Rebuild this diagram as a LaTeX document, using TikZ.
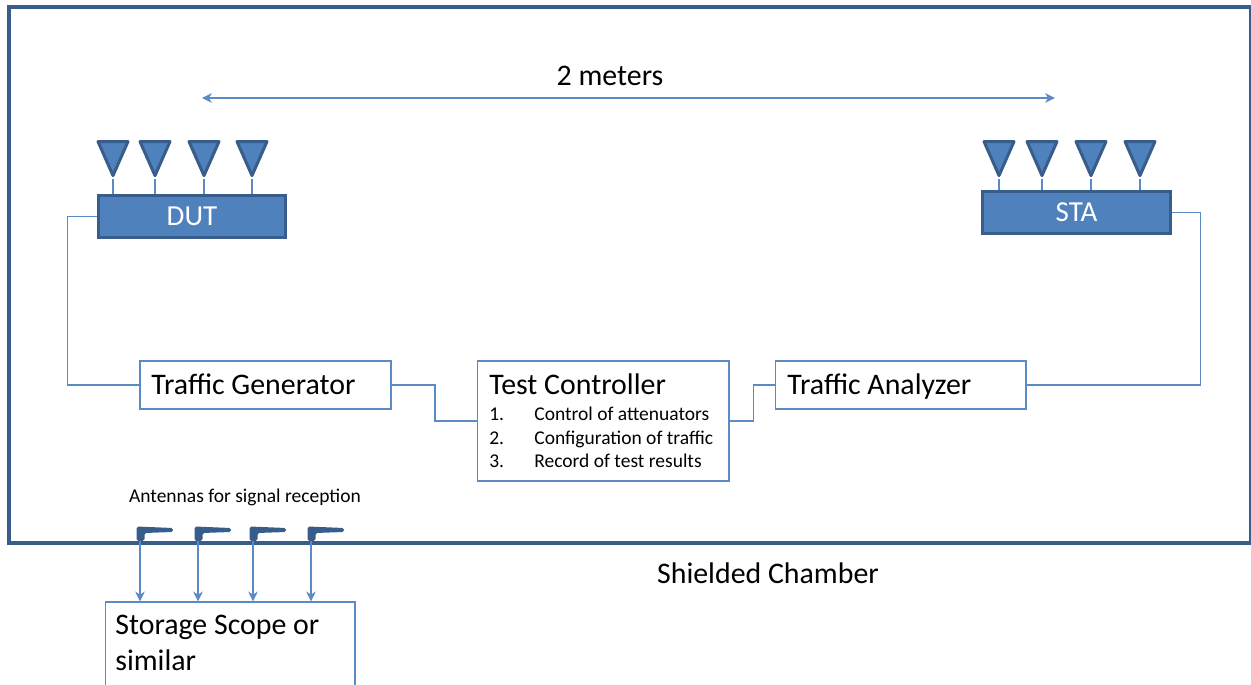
\documentclass[tikz,border=0pt]{standalone}
\usepackage{fontspec}
\setmainfont{Carlito}
\usetikzlibrary{shapes.geometric,arrows.meta}
\definecolor{fillblue}{HTML}{4F81BD}
\definecolor{darkblue}{HTML}{385D8A}
\definecolor{wireblue}{HTML}{5B8BC6}
\tikzset{
  wire/.style={draw=wireblue, line width=0.6pt},
  arrow/.style={wire, -{Stealth[length=5.7pt,width=5.5pt]}},
  box/.style={wire, rectangle, fill=white, inner sep=0pt},
  device/.style={rectangle, draw=darkblue, fill=fillblue, line width=1.7pt, text=white, inner sep=0pt,
    minimum width=3.75cm, minimum height=0.83cm, font=\fontsize{16.5}{18}\selectfont},
  antenna/.style={isosceles triangle, isosceles triangle stretches, shape border rotate=-90,
    draw=darkblue, fill=fillblue, line width=1.7pt, line join=round, inner sep=0pt, anchor=apex,
    minimum width=0.6cm, minimum height=0.68cm},
  title/.style={anchor=base west, inner sep=0pt, font=\fontsize{17}{21}\selectfont},
  item/.style={anchor=base west, inner sep=0pt, font=\fontsize{11.1}{13}\selectfont}
}
\begin{document}
\begin{tikzpicture}[x=0.02cm,y=-0.02cm]
  \useasboundingbox (0,0) rectangle (1251,685);

  % Chamber
  \draw[draw=darkblue, line width=1.9pt] (9,7) rectangle (1251,543);
  \node[title, anchor=base] (chamber) at (768,583.5) {Shielded Chamber};

  % Distance
  \coordinate (distl) at (202,98);
  \coordinate (distr) at (1055,98);
  \draw[wire, {Stealth[length=5.7pt,width=5.5pt]}-{Stealth[length=5.7pt,width=5.5pt]}] (distl) -- (distr);
  \node[title, anchor=base] (dist) at (610,86) {2 meters};

  % Devices
  \node[device] (dut) at (192,216.5) {DUT};
  \node[device] (sta) at (1076.5,212.5) {STA};
  \foreach \x [count=\i] in {113,155,204,252}{
    \node[antenna] (dutant\i) at (\x,179.5) {};
    \draw[wire] (dutant\i.apex) -- (dutant\i.apex |- dut.north);
  }
  \foreach \x [count=\i] in {999,1042,1091,1140}{
    \node[antenna] (staant\i) at (\x,179.5) {};
    \draw[wire] (staant\i.apex) -- (staant\i.apex |- sta.north);
  }

  % Boxes
  \node[box, minimum width=5.02cm, minimum height=0.96cm] (tgen) at (265.5,385) {};
  \node[title] (tgentext) at (151,394.5) {Traffic Generator};
  \node[box, minimum width=5.04cm, minimum height=2.4cm] (ctrl) at (603,421) {};
  \node[title] (ctrltext) at (489,395) {Test Controller};
  \node[item] (ctrlnum1) at (489,421) {1.};
  \node[item] (ctrlnum2) at (489,445) {2.};
  \node[item] (ctrlnum3) at (489,468) {3.};
  \node[item] (ctrlitem1) at (534,421) {Control of attenuators};
  \node[item] (ctrlitem2) at (534,445) {Configuration of traffic};
  \node[item] (ctrlitem3) at (534,468) {Record of test results};
  \node[box, minimum width=5.02cm, minimum height=0.96cm] (tana) at (900.5,385) {};
  \node[title] (tanatext) at (787,394.5) {Traffic Analyzer};

  % Links
  \draw[wire] (dut.west) -- ++(-29,0) |- (tgen.west);
  \draw[wire] (tgen.east) -- ++(43.5,0) |- (ctrl.west);
  \draw[wire] (ctrl.east) -- ++(24,0) |- (tana.west);
  \draw[wire] (tana.east) -- ++(174,0) |- (sta.east);

  % Reception
  \node[item, anchor=base] (anttext) at (245,503) {Antennas for signal reception};
  \node[box, minimum width=5cm, minimum height=2cm, anchor=north west] (scope) at (104.5,601.5) {};
  \node[title] (scopetext1) at (115,634) {Storage Scope or};
  \node[title] (scopetext2) at (115,670) {similar};
  \foreach \x [count=\i] in {140,198,253,311}{
    \coordinate (rx\i) at (\x,541);
    \fill[darkblue, rounded corners=1pt] (\x-3.5,526.5) -- (\x+33,528) -- (\x+33,532) -- (\x+4.5,533) -- (\x+4.5,541) -- (\x-3.5,541) -- cycle;
    \draw[arrow] (rx\i) -- (rx\i |- scope.north);
  }
\end{tikzpicture}
\end{document}
